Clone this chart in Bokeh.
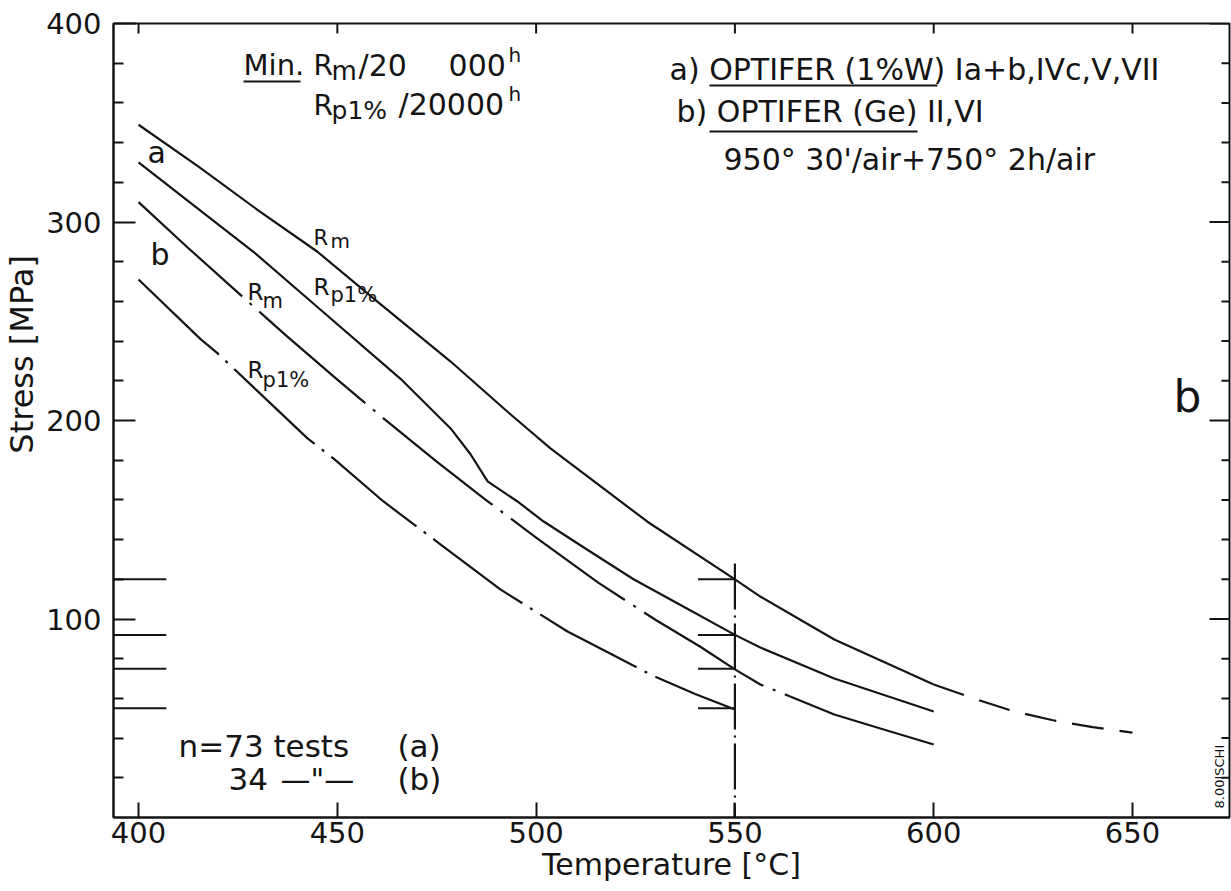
import math

from bokeh.core.properties import value
from bokeh.embed import file_html
from bokeh.models import FixedTicker, Range1d
from bokeh.plotting import figure
from bokeh.resources import INLINE

# Minimum creep strength of OPTIFER for 20 000 h: rupture strength R_m and 1 % strain limit R_p1%
# (a) OPTIFER (1%W)
temp_a_rm = [400, 415, 430, 445, 460, 478.5, 493.6, 503.6, 515, 528, 550, 556.4, 575, 600]
stress_a_rm = [349, 328, 306, 285, 260, 229.7, 203, 186, 168.7, 149, 120, 111.3, 89.7, 67]
# extrapolated part of the rupture curve
temp_a_rm_ext = [600, 610, 620, 630, 640, 650]
stress_a_rm_ext = [67, 60, 53.6, 49, 45.5, 42.8]

temp_a_rp = [400, 415, 428.9, 446, 465.9, 478.5, 483.5, 487.8, 495.3, 501.9, 512, 524.5, 537, 550, 556.4, 575, 600]
stress_a_rp = [330, 306.6, 285, 255.4, 221, 196, 183, 169.3, 159.2, 149.1, 136, 120, 106.3, 92, 85.6, 70, 53.4]

# (b) OPTIFER (Ge)
temp_b_rm = [400, 412, 425, 437, 450, 462, 475, 487, 500, 515.7, 530, 541.3, 550, 556.4, 563.9, 575, 587, 600]
stress_b_rm = [310, 287.8, 264.4, 243, 220.6, 200.4, 179.3, 160.5, 141, 118.2, 99.6, 86, 74.6, 67, 61, 51.9, 44.6, 36.8]
b_rm_solid_from = 563.9  # beyond this temperature the b-rupture curve is drawn solid

temp_b_rp = [400, 415.6, 419.9, 431, 442.5, 449, 461.6, 476, 491, 507.9, 518, 528.8, 540, 550]
stress_b_rp = [271, 241, 233.8, 212.8, 191, 180.9, 159.2, 137.5, 114.9, 93.7, 83.2, 72, 62.2, 54.4]

# values at the 550 °C reference temperature, repeated on the stress axis
ref_temp = 550
ref_stress = [120, 92, 75, 55]
ref_line_top = 128

temp_ticks = [400, 450, 500, 550, 600, 650]
stress_ticks = [100, 200, 300, 400]
stress_minor = [20 * k for k in range(1, 20) if (20 * k) % 100]

INK = "#141414"
FONT = "DejaVu Sans"
X0, X1 = 393.7, 674.4
Y0, Y1 = 0, 400
PX_PER_MPA = 1.985  # vertical scale of the frame

p = figure(width=1231, height=891, x_range=Range1d(X0, X1), y_range=Range1d(Y0, Y1),
           output_backend="svg", toolbar_location=None,
           min_border_left=113, min_border_right=2, min_border_top=23, min_border_bottom=74,
           background_fill_color="white", border_fill_color="white")
p.grid.visible = False
p.outline_line_color = INK
p.outline_line_width = 2

xa = p.xaxis[0]
xa.ticker = FixedTicker(ticks=temp_ticks, minor_ticks=[])
xa.major_tick_in = 15
xa.major_tick_out = 0
xa.major_tick_line_width = 2
xa.major_tick_line_color = INK
xa.axis_line_width = 2
xa.axis_line_color = INK
xa.major_label_text_font = FONT
xa.major_label_text_font_size = "29px"
xa.major_label_text_color = INK
xa.major_label_standoff = 4
xa.axis_label = "Temperature [°C]"
xa.axis_label_text_font = FONT
xa.axis_label_text_font_size = "30px"
xa.axis_label_text_font_style = "normal"
xa.axis_label_text_color = INK
xa.axis_label_standoff = 1

ya = p.yaxis[0]
ya.ticker = FixedTicker(ticks=stress_ticks, minor_ticks=stress_minor)
ya.major_tick_in = 22
ya.major_tick_out = 0
ya.minor_tick_in = 10
ya.minor_tick_out = 0
ya.major_tick_line_width = 2
ya.minor_tick_line_width = 2
ya.major_tick_line_color = INK
ya.minor_tick_line_color = INK
ya.axis_line_width = 2
ya.axis_line_color = INK
ya.major_label_text_font = FONT
ya.major_label_text_font_size = "29px"
ya.major_label_text_color = INK
ya.major_label_standoff = 12
# leading no-break spaces lift the title above the middle of the axis
ya.axis_label = "\u00a0" * 13 + "Stress [MPa]"
ya.axis_label_text_font = FONT
ya.axis_label_text_font_size = "32px"
ya.axis_label_text_font_style = "normal"
ya.axis_label_text_color = INK
ya.axis_label_standoff = 2

# inward ticks along the top and right edges of the frame
p.ray(x=temp_ticks, y=[Y1] * len(temp_ticks), length=10, length_units="screen",
      angle=-math.pi / 2, line_color=INK, line_width=2)
p.ray(x=[X1] * len(stress_ticks), y=stress_ticks, length=20, length_units="screen",
      angle=math.pi, line_color=INK, line_width=2)
p.ray(x=[X1] * len(stress_minor), y=stress_minor, length=8, length_units="screen",
      angle=math.pi, line_color=INK, line_width=2)

LW = 2.2
common = dict(line_color=INK, line_width=LW, line_join="round", line_cap="butt")

# (a) curves
p.line(temp_a_rm, stress_a_rm, **common)
p.line(temp_a_rm_ext, stress_a_rm_ext, line_dash="32 16", **common)
p.line(temp_a_rp, stress_a_rp, **common)

# (b) curves
b_rm_dd = [(t, s) for t, s in zip(temp_b_rm, stress_b_rm) if t <= b_rm_solid_from]
b_rm_sol = [(t, s) for t, s in zip(temp_b_rm, stress_b_rm) if t >= b_rm_solid_from]
p.line([t for t, _ in b_rm_dd], [s for _, s in b_rm_dd], line_dash="140 10 3 10", **common)
p.line([t for t, _ in b_rm_sol], [s for _, s in b_rm_sol], **common)
p.line(temp_b_rp, stress_b_rp, line_dash="110 9 3 9", **common)

# 550 °C reference line with the stress levels marked on it and on the stress axis
p.line([ref_temp, ref_temp], [ref_line_top, Y0], line_dash="46 6 2 6", **common)
p.segment(x0=[ref_temp - 9.3] * len(ref_stress), x1=[ref_temp] * len(ref_stress),
          y0=ref_stress, y1=ref_stress, line_color=INK, line_width=2)
p.segment(x0=[X0] * len(ref_stress), x1=[407] * len(ref_stress),
          y0=ref_stress, y1=ref_stress, line_color=INK, line_width=2)


def put(text, x, y, size, angle=0.0):
    """Place a text with its left end on the baseline at (x, y).

    The text glyph's alphabetic anchor sits about 0.41 em above the drawn
    baseline, so horizontal texts are raised by that amount.
    """
    if angle == 0.0:
        y = y + 0.41 * size / PX_PER_MPA
    p.text(x=[x], y=[y], text=[text], angle=angle,
           text_font=value(FONT), text_font_size=value(f"{size}px"), text_color=INK,
           text_align="left", text_baseline="alphabetic")


def underline(x0, x1, y):
    p.line([x0, x1], [y, y], line_color=INK, line_width=2)


# heading, left block
put("Min.", 426.41, 373.30, 29)
underline(426.41, 440.74, 370.78)
put("R", 444.01, 373.30, 28)
put("m", 448.54, 370.78, 26)
put("/20", 455.33, 372.80, 30)
put("000", 477.97, 372.80, 30)
put("h", 493.06, 379.85, 20)
put("R", 444.01, 353.15, 28)
put("p1%", 448.54, 351.13, 25)
put("/20000", 465.39, 353.15, 30)
put("h", 493.06, 360.20, 20)

# heading, right block
put("a) OPTIFER (1%W) Ia+b,IVc,V,VII", 533.55, 370.78, 30)
underline(543.61, 600.96, 368.77)
put("b) OPTIFER (Ge) II,VI", 535.31, 349.62, 30)
underline(543.61, 595.93, 345.59)
put("950° 30'/air+750° 2h/air", 547.13, 325.44, 30)

# curve annotations
put("a", 402.26, 328.97, 30)
put("b", 403.02, 277.58, 30)
put("R", 444.01, 287.66, 21)
put("m", 448.29, 286.15, 20)
put("R", 444.01, 262.47, 23)
put("p1%", 448.29, 258.94, 21)
put("R", 427.41, 259.95, 23)
put("m", 431.19, 255.92, 21)
put("R", 427.41, 220.65, 23)
put("p1%", 431.19, 216.12, 21)
put("b", 660.31, 203.02, 44)

# number of tests
put("n=73 tests", 410.06, 29.72, 31)
put("(a)", 465.14, 29.72, 31)
put("34", 422.64, 13.10, 31)
put("—\"—", 435.71, 13.10, 30)
put("(b)", 465.14, 13.10, 31)

# drawing number
put("8.00ISCHI", 671.9, 4.53, 13, angle=math.pi / 2)

open("out.html", "w").write(file_html(p, INLINE))
